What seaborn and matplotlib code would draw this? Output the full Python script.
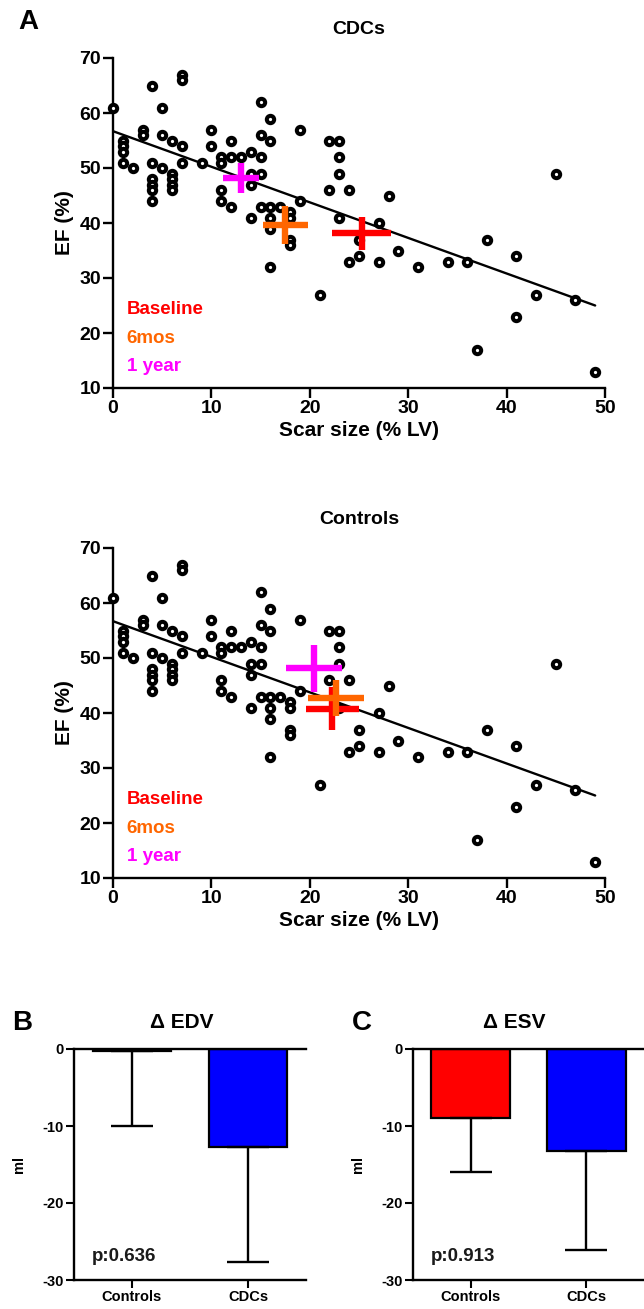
import numpy as np
import pandas as pd
import matplotlib
matplotlib.use("Agg")
import matplotlib.pyplot as plt
import seaborn as sns

sns.set_theme(style="white")
plt.rcParams['font.family'] = ['Liberation Sans', 'DejaVu Sans']
plt.rcParams['font.weight'] = 'bold'
plt.rcParams['axes.unicode_minus'] = False
plt.rcParams['text.color'] = 'black'
plt.rcParams['axes.labelcolor'] = 'black'
plt.rcParams['xtick.color'] = 'black'
plt.rcParams['ytick.color'] = 'black'

# ---------------- data ----------------
scar = [0, 1, 1, 1, 1, 2, 3, 3, 4, 4, 4, 4, 4, 4, 5, 5, 5, 6, 6, 6, 6, 6,
        7, 7, 7, 7, 9, 10, 10, 11, 11, 11, 11, 12, 12, 12, 13, 14, 14, 14, 14,
        15, 15, 15, 15, 15, 16, 16, 16, 16, 16, 16, 17, 18, 18, 18, 18, 19, 19,
        21, 22, 22, 23, 23, 23, 23, 24, 24, 25, 25, 27, 27, 28, 29, 31, 34, 36,
        37, 38, 41, 41, 43, 45, 47, 49]
ef = [61, 55, 54, 53, 51, 50, 57, 56, 65, 51, 48, 47, 46, 44, 61, 56, 50, 55, 49, 48, 47, 46,
      67, 66, 54, 51, 51, 57, 54, 52, 51, 46, 44, 55, 52, 43, 52, 53, 49, 47, 41,
      62, 56, 52, 49, 43, 59, 55, 43, 41, 39, 32, 43, 42, 41, 37, 36, 57, 44,
      27, 55, 46, 55, 52, 49, 41, 46, 33, 37, 34, 40, 33, 45, 35, 32, 33, 33,
      17, 37, 34, 23, 27, 49, 26, 13]

timepoints = ["Baseline", "6mos", "1 year"]
tp_colors = ["#FF0000", "#FF6600", "#FF00FF"]

# crosses: mean scar, mean EF, scar err, EF err  (Baseline, 6mos, 1 year)
cdc_x = [25.3, 17.5, 13.0]
cdc_y = [38.1, 39.6, 48.2]
cdc_xerr = [3.0, 2.3, 1.8]
cdc_yerr = [3.0, 3.5, 2.7]

ctl_x = [22.3, 22.7, 20.4]
ctl_y = [40.8, 42.7, 48.1]
ctl_xerr = [2.7, 2.85, 2.85]
ctl_yerr = [3.9, 3.3, 4.2]

groups = ["Controls", "CDCs"]
edv_mean = [-0.2, -12.7]
edv_err = [9.8, 15.0]
esv_mean = [-9.0, -13.2]
esv_err = [7.0, 12.9]
bar_colors = ["#FF0000", "#0000FF"]
p_edv = "p:0.636"
p_esv = "p:0.913"

df = pd.DataFrame({"scar": scar, "ef": ef})

W, H = 644, 1309
fig = plt.figure(figsize=(W / 100, H / 100), dpi=100)


def fx(px):
    return px / W


def fy(py):
    return 1 - py / H


def scatter_panel(top_px, bottom_px, title, mx, my, mxe, mye):
    ax = fig.add_axes([fx(113), fy(bottom_px), fx(605) - fx(113), fy(top_px) - fy(bottom_px)])
    sns.regplot(data=df, x="scar", y="ef", scatter=False, ci=None, ax=ax,
                line_kws=dict(color="black", lw=1.7, zorder=2))
    sns.scatterplot(data=df, x="scar", y="ef", ax=ax, s=28, marker="o",
                    facecolor="white", edgecolor="black", linewidth=2.9,
                    zorder=3, clip_on=False)
    for i in range(3):
        ax.errorbar(mx[i], my[i], xerr=mxe[i], yerr=mye[i], fmt="none",
                    ecolor=tp_colors[i], elinewidth=4.6, capsize=0, zorder=4)
    ax.set_xlim(0, 50)
    ax.set_ylim(10, 70)
    ax.set_xticks([0, 10, 20, 30, 40, 50])
    ax.set_yticks([10, 20, 30, 40, 50, 60, 70])
    for s in ["top", "right"]:
        ax.spines[s].set_visible(False)
    for s in ["left", "bottom"]:
        ax.spines[s].set_color("black")
        ax.spines[s].set_linewidth(1.7)
    ax.tick_params(axis="both", direction="out", length=7, width=1.7,
                   color="black", labelcolor="black", labelsize=14, pad=1.5,
                   left=True, bottom=True)
    for lab in ax.get_xticklabels() + ax.get_yticklabels():
        lab.set_fontweight("bold")
    ax.set_xlabel("Scar size (% LV)", fontsize=15, fontweight="bold", labelpad=3, color="black")
    ax.set_ylabel("EF (%)", fontsize=15, fontweight="bold", labelpad=4, color="black")
    ytxt = [24.2, 19.0, 13.9]
    for i in range(3):
        ax.text(1.4, ytxt[i], timepoints[i], color=tp_colors[i], fontsize=13.5,
                fontweight="bold", ha="left", va="center")
    fig.text(fx(359), fy(top_px - 28), title, ha="center", va="center",
             fontsize=14, fontweight="bold", color="black")
    return ax


scatter_panel(58, 388, "CDCs", cdc_x, cdc_y, cdc_xerr, cdc_yerr)
scatter_panel(548, 878, "Controls", ctl_x, ctl_y, ctl_xerr, ctl_yerr)


def bar_panel(left_px, right_px, means, errs, colors, title, letter, ptxt, title_x, letter_x):
    ax = fig.add_axes([fx(left_px), fy(1280), fx(right_px) - fx(left_px), fy(1049) - fy(1280)])
    bdf = pd.DataFrame({"group": groups, "val": means})
    sns.barplot(data=bdf, x="group", y="val", hue="group", palette=colors,
                legend=False, edgecolor="black", linewidth=1.6, width=0.68,
                saturation=1, ax=ax, zorder=2)
    ax.errorbar([0, 1], means, yerr=[errs, [0, 0]], fmt="none", ecolor="black",
                elinewidth=1.7, capsize=15, capthick=1.7, zorder=3)
    ax.set_xlim(-0.5, 1.5)
    ax.set_ylim(-30, 0)
    ax.set_yticks([0, -10, -20, -30])
    ax.spines["right"].set_visible(False)
    for s in ["left", "bottom", "top"]:
        ax.spines[s].set_color("black")
        ax.spines[s].set_linewidth(1.7)
    ax.tick_params(axis="both", direction="out", length=6, width=1.5,
                   color="black", labelcolor="black", labelsize=10.5, pad=1.5,
                   left=True, bottom=True)
    for lab in ax.get_xticklabels() + ax.get_yticklabels():
        lab.set_fontweight("bold")
    ax.set_xlabel("")
    ax.set_ylabel("ml", fontsize=10.5, fontweight="bold", labelpad=12, color="black")
    ax.text(-0.345, -27.0, ptxt, fontsize=13.5, ha="left", va="center",
            fontweight="bold", color="#1a1a1a")
    fig.text(fx(title_x), fy(1022), title, ha="center", va="center",
             fontsize=15, fontweight="bold", color="black")
    fig.text(fx(letter_x), fy(1023), letter, ha="center", va="center",
             fontsize=20, fontweight="bold", color="black")
    return ax


bar_panel(74, 306, edv_mean, edv_err, bar_colors, "\u0394 EDV", "B", p_edv, 182, 22)
bar_panel(413, 644, esv_mean, esv_err, bar_colors, "\u0394 ESV", "C", p_esv, 514, 362)

fig.text(fx(28), fy(22), "A", ha="center", va="center", fontsize=20, fontweight="bold", color="black")

fig.savefig("out.png", dpi=100)
